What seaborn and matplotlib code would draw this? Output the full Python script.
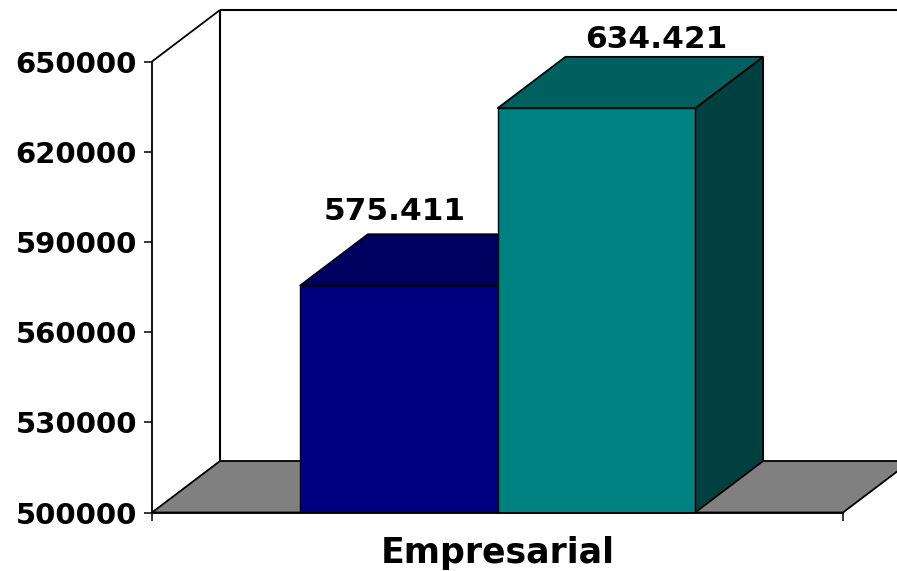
import matplotlib
matplotlib.use("Agg")
import matplotlib.pyplot as plt
from matplotlib.patches import Polygon
import pandas as pd
import seaborn as sns

categories = ["Empresarial", "Empresarial"]
series_names = ["A", "B"]
values = [575411, 634421]
value_labels = ["575.411", "634.421"]
y_ticks = [500000, 530000, 560000, 590000, 620000, 650000]

front_colors = ["#000080", "#008080"]
top_colors = ["#000060", "#006060"]
side_colors = ["#000040", "#004040"]
label_dx = [-0.066, 0.88]
label_dy = [1.28, 1.18]
FLOOR = "#808080"
W, H = 897, 571

sns.set_theme(style="white")
plt.rcParams["font.family"] = ["DejaVu Sans"]

fig = plt.figure(figsize=(W / 100, H / 100), dpi=100, facecolor="white")
ax = fig.add_axes([152 / W, 1 - 512.5 / H, 691 / W, 451 / H])

df = pd.DataFrame({"cat": categories, "serie": series_names, "val": values})
sns.barplot(data=df, x="cat", y="val", hue="serie", palette=front_colors,
            saturation=1, width=0.572, gap=0, dodge=True, legend=False, ax=ax,
            edgecolor="black", linewidth=1.0, zorder=5, err_kws={"linewidth": 0})
ax.set_xlim(-0.5, 0.5)
ax.set_ylim(y_ticks[0], y_ticks[-1])

# depth of the 3D box, in data units
dx = 68 / 691
dy = 51.5 / 451 * (y_ticks[-1] - y_ticks[0])
x0, x1 = ax.get_xlim()
y0, y1 = ax.get_ylim()

def poly(pts, fc, z, lw=1.3):
    ax.add_patch(Polygon(pts, closed=True, facecolor=fc, edgecolor="black",
                         linewidth=lw, zorder=z, clip_on=False, joinstyle="miter"))

def line(xs, ys, z=2, lw=1.5):
    ax.plot(xs, ys, color="black", lw=lw, zorder=z, clip_on=False,
            solid_capstyle="butt")

# walls and floor
poly([(x0, y0), (x1, y0), (x1 + dx, y0 + dy), (x0 + dx, y0 + dy)], FLOOR, 1)
line([x0 + dx, x0 + dx], [y0 + dy, y1 + dy])
line([x0 + dx, x1 + dx], [y1 + dy, y1 + dy])
line([x0, x0 + dx], [y1, y1 + dy], lw=1.3)

# box faces built from the bars seaborn drew
for i, bar in enumerate(ax.patches[:2]):
    left, right = bar.get_x(), bar.get_x() + bar.get_width()
    top = bar.get_height()
    poly([(right, y0), (right + dx, y0 + dy), (right + dx, top + dy), (right, top)],
         side_colors[i], 3 if i else 2.5)
    poly([(left, top), (right, top), (right + dx, top + dy), (left + dx, top + dy)],
         top_colors[i], 4.5 if i else 3.5)
    ax.text((left + right) / 2 + dx * label_dx[i], top + dy * label_dy[i],
            value_labels[i], ha="center", va="baseline", fontsize=22.5,
            fontweight="bold", color="black", zorder=8, clip_on=False)

sns.despine(ax=ax, top=True, right=True)
for s in ("left", "bottom"):
    ax.spines[s].set_linewidth(1.3)
    ax.spines[s].set_color("black")
    ax.spines[s].set_zorder(6)

ax.set_yticks(y_ticks)
ax.set_yticklabels([str(v) for v in y_ticks], fontsize=21, fontweight="bold", color="black")
ax.tick_params(axis="y", length=5.8, width=1.1, color="black", left=True, pad=5)
ax.set_xticks([x0, x1])
ax.set_xticklabels(["", ""])
ax.tick_params(axis="x", length=5.8, width=1.1, color="black", bottom=True)
ax.set_xlabel("")
ax.set_ylabel("")
ax.text(0, -0.112, categories[0], transform=ax.get_xaxis_transform(), ha="center",
        va="baseline", fontsize=25, fontweight="bold", color="black", clip_on=False)

fig.savefig("out.png", dpi=100, facecolor="white")
